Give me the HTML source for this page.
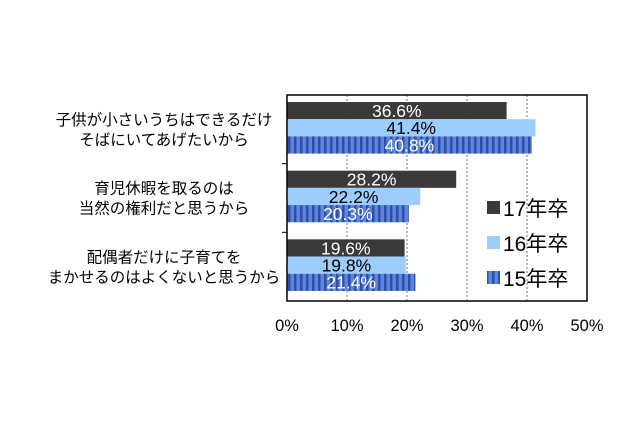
<!DOCTYPE html>
<html><head><meta charset="utf-8"><style>
body{margin:0;background:#fff;width:640px;height:426px;overflow:hidden}
svg text{font-family:"Liberation Sans","Noto Sans CJK JP",sans-serif}
</style></head><body>
<svg id="c" width="640" height="426">
<defs><pattern id="stripe" width="6" height="10" patternUnits="userSpaceOnUse"><rect width="6" height="10" fill="#5b86dc"/><rect width="2.5" height="10" fill="#2e4fa8"/></pattern></defs>
</svg>
<script>
const categories=[["子供が小さいうちはできるだけ","そばにいてあげたいから"],["育児休暇を取るのは","当然の権利だと思うから"],["配偶者だけに子育てを","まかせるのはよくないと思うから"]];
const seriesNames=["17年卒","16年卒","15年卒"];
const s17=[36.6,28.2,19.6];
const s16=[41.4,22.2,19.8];
const s15=[40.8,20.3,21.4];
const ticks=[0,10,20,30,40,50];
const svg=document.getElementById('c');const NS='http://www.w3.org/2000/svg';
const L=287,R=587,T=95,B=301;
const x=v=>L+(v/50)*(R-L);
const gh=(B-T)/categories.length;
function mk(t,a,p){const e=document.createElementNS(NS,t);for(const k in a)e.setAttribute(k,a[k]);(p||svg).appendChild(e);return e;}
ticks.forEach((t,i)=>{if(i>0&&i<ticks.length-1){const g=mk('line',{x1:x(t),x2:x(t),y1:T,y2:B,stroke:'#777','stroke-dasharray':'2,2'});

}
const tl=mk('text',{x:x(t),y:331,'font-size':16.5,'text-anchor':'middle',fill:'#000'});tl.textContent=t+'%';

});
const series=[s17,s16,s15];const fills=['#3a3a3a','#9dcdfc','url(#stripe)'];const tcol=['#fff','#000','#fff'];
categories.forEach((c,i)=>{const y0=T+i*gh+7;
series.forEach((s,j)=>{const y=y0+j*17.2;
const r=mk('rect',{x:L,y:y,width:x(s[i])-L,height:17.2,fill:fills[j]});


const t=mk('text',{x:(L+x(s[i]))/2,y:y+15,'font-size':17.5,'text-anchor':'middle',fill:tcol[j]});t.textContent=s[i].toFixed(1)+'%';

});
c.forEach((ln,k)=>{const t=mk('text',{x:164,y:T+i*gh+30+k*20,'font-size':15.5,'text-anchor':'middle',fill:'#000'});t.textContent=ln;

});
if(i>0){const tk=mk('line',{x1:L-5,x2:L,y1:T+i*gh,y2:T+i*gh,stroke:'#000'});

}
});
const ax=mk('rect',{x:L,y:T,width:R-L,height:B-T,fill:'none',stroke:'#000','stroke-width':1.5});


const lf=['#3a3a3a','#9dcdfc','url(#stripe)'];
seriesNames.forEach((n,j)=>{const y=208+j*35;
const sq=mk('rect',{x:487,y:y-7,width:13,height:13,fill:lf[j]});


const t=mk('text',{x:503,y:y+8,'font-size':21,fill:'#000'});t.textContent=n;

});
</script>
</body></html>
